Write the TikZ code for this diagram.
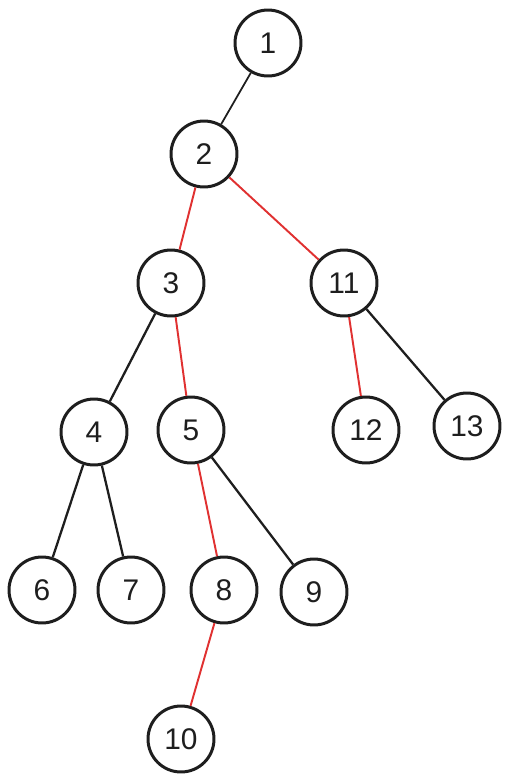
\documentclass[tikz,border=0pt]{standalone}
\usepackage{fontspec}
\setmainfont{Liberation Sans}
\definecolor{inkline}{HTML}{1E1E1E}
\definecolor{pathred}{HTML}{E03131}

\begin{document}
\begin{tikzpicture}[
  x=0.02cm, y=-0.02cm,
  font=\fontsize{17}{20}\selectfont,
  every node/.style={align=center, text=inkline},
  treenode/.style={
    circle, draw=inkline, line width=1.7pt,
    fill=white,
    minimum size=1.32cm,
    inner sep=0pt
  },
  edge/.style={draw=inkline, line width=1.3pt},
  rededge/.style={draw=pathred, line width=1.1pt}
]
\useasboundingbox (0,0) rectangle (511,782);

% =============================================================================
% Nodes (pixel grid, y grows downwards)
% =============================================================================

% --- Levels 0 and 1
\node[treenode] (n1) at (268, 43) {1};
\node[treenode] (n2) at (204, 154) {2};

% --- Level 2
\node[treenode] (n3) at (171, 283) {3};
\node[treenode] (n11) at (344, 283) {11};

% --- Level 3
\node[treenode] (n4) at (94, 432) {4};
\node[treenode] (n5) at (191, 430) {5};
\node[treenode] (n12) at (366, 430) {12};
\node[treenode] (n13) at (467, 426) {13};

% --- Level 4
\node[treenode] (n6) at (42, 590) {6};
\node[treenode] (n7) at (131, 590) {7};
\node[treenode] (n8) at (224, 590) {8};
\node[treenode] (n9) at (314, 592) {9};

% --- Level 5
\node[treenode] (n10) at (181, 739) {10};

% =============================================================================
% Edges
% =============================================================================
\draw[edge, line width=1pt] (n1) -- (n2);
\draw[rededge] (n2) -- (n3);
\draw[rededge] (n2) -- (n11);
\draw[edge] (n3) -- (n4);
\draw[rededge] (n3) -- (n5);
\draw[rededge] (n11) -- (n12);
\draw[edge] (n11) -- (n13);
\draw[edge] (n4) -- (n6);
\draw[edge] (n4) -- (n7);
\draw[rededge] (n5) -- (n8);
\draw[edge] (n5) -- (n9);
\draw[rededge] (n8) -- (n10);

\end{tikzpicture}
\end{document}
